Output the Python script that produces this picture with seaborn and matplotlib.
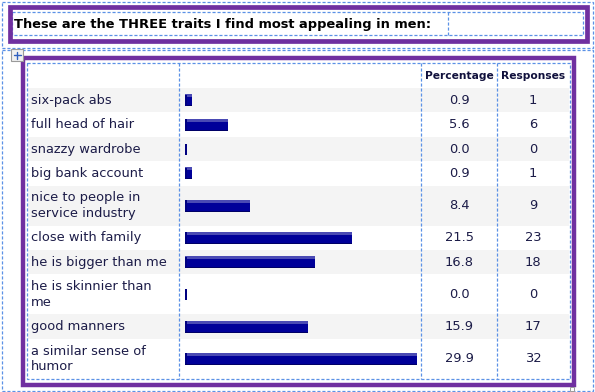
import matplotlib
matplotlib.use('Agg')
import matplotlib.pyplot as plt
import numpy as np
import seaborn as sns
from matplotlib.patches import Rectangle

purple = '#7030a0'
dash_blue = '#5b91e6'
bar_blue = '#000099'
text_col = '#1c1c48'

title = 'These are the THREE traits I find most appealing in men:'
traits = ['six-pack abs', 'full head of hair', 'snazzy wardrobe', 'big bank account',
          'nice to people in\nservice industry', 'close with family', 'he is bigger than me',
          'he is skinnier than\nme', 'good manners', 'a similar sense of\nhumor']
percentage = [0.9, 5.6, 0.0, 0.9, 8.4, 21.5, 16.8, 0.0, 15.9, 29.9]
responses = [1, 6, 0, 1, 9, 23, 18, 0, 17, 32]
headers = ['Percentage', 'Responses']

sns.set_style('white')
plt.rcParams['font.family'] = ['DejaVu Sans']

W, H = 595, 392
fig = plt.figure(figsize=(W / 100, H / 100), dpi=100)
ax = fig.add_axes([0, 0, 1, 1])
ax.set_xlim(0, W)
ax.set_ylim(H, 0)
ax.axis('off')

dash = (0, (2.5, 1.5))


def dashed_rect(x0, y0, x1, y1):
    ax.add_patch(Rectangle((x0, y0), x1 - x0, y1 - y0, fill=False, ec=dash_blue,
                           lw=0.9, ls=dash, zorder=5))


# title block
dashed_rect(2, 2, 593, 48)
ax.add_patch(Rectangle((9.5, 6.5), 577.5, 34, fill=False, ec=purple, lw=3.4, zorder=6))
dashed_rect(12, 12, 583, 35)
ax.plot([448, 448], [12, 35], color=dash_blue, lw=0.9, ls=dash, zorder=5)
ax.text(14, 24, title, fontsize=9.4, fontweight='bold', color='black', va='center', ha='left')

# table block
dashed_rect(2, 50, 593, 391)
ax.add_patch(Rectangle((11, 49), 12, 12, fc='#f0f0f0', ec='#9a9a9a', lw=0.8, zorder=7))
ax.plot([13.5, 20.5], [55, 55], color='#3060c0', lw=1, zorder=8)
ax.plot([17, 17], [51.5, 58.5], color='#3060c0', lw=1, zorder=8)
ax.add_patch(Rectangle((23, 58), 550.5, 326.5, fill=False, ec=purple, lw=3.2, zorder=6))
ax.add_patch(Rectangle((570, 387), 4, 4, fc='white', ec='#9a9a9a', lw=0.7, zorder=7))

top, head_h = 63, 25
single_h, extra_h = 24.4, 15.6
nlines = np.array([t.count('\n') + 1 for t in traits])
heights = single_h + extra_h * (nlines - 1)
edges = top + head_h + np.concatenate([[0], np.cumsum(heights)])
centers = (edges[:-1] + edges[1:]) / 2
bottom = edges[-1]

for i in range(len(traits)):
    if i % 2 == 0:
        ax.add_patch(Rectangle((28, edges[i]), 541, heights[i], fc='#f4f4f4', ec='none', zorder=1))
    ax.text(31, centers[i], traits[i], fontsize=9.4, color=text_col, va='center', ha='left',
            linespacing=1.25, zorder=3)
    ax.text(459, centers[i], f'{percentage[i]:.1f}', fontsize=9.4, color=text_col,
            va='center', ha='center', zorder=3)
    ax.text(533, centers[i], f'{responses[i]}', fontsize=9.4, color=text_col,
            va='center', ha='center', zorder=3)

ax.text(459, top + head_h / 2, headers[0], fontsize=7.7, fontweight='bold', color='#10103c',
        va='center', ha='center')
ax.text(533, top + head_h / 2, headers[1], fontsize=7.7, fontweight='bold', color='#10103c',
        va='center', ha='center')

dashed_rect(27, top, 570, bottom)
for xc in [179, 421, 497]:
    ax.plot([xc, xc], [top, bottom], color=dash_blue, lw=0.9, ls=dash, zorder=5)

# bar column
px_per_unit = 232 / 29.9
bx0, bw = 185, 235
bax = fig.add_axes([bx0 / W, 0, bw / W, 1])
sns.barplot(x=percentage, y=centers, orient='y', native_scale=True,
            width=12 / single_h, color=bar_blue, saturation=1, linewidth=0,
            edgecolor='none', ax=bax, zorder=3)
pct = np.array(percentage)
bax.barh(centers - 4.5, pct, height=3, color='#4a4ab4', lw=0, zorder=4)
bax.barh(centers + 5.5, pct, height=1, color='#000066', lw=0, zorder=4)
bax.barh(centers, 1.5 / px_per_unit, height=11, color='#000080', lw=0, zorder=4)
bax.set_xlim(0, bw / px_per_unit)
bax.set_ylim(H, 0)
bax.axis('off')
bax.patch.set_alpha(0)

fig.savefig('out.png', dpi=100)
